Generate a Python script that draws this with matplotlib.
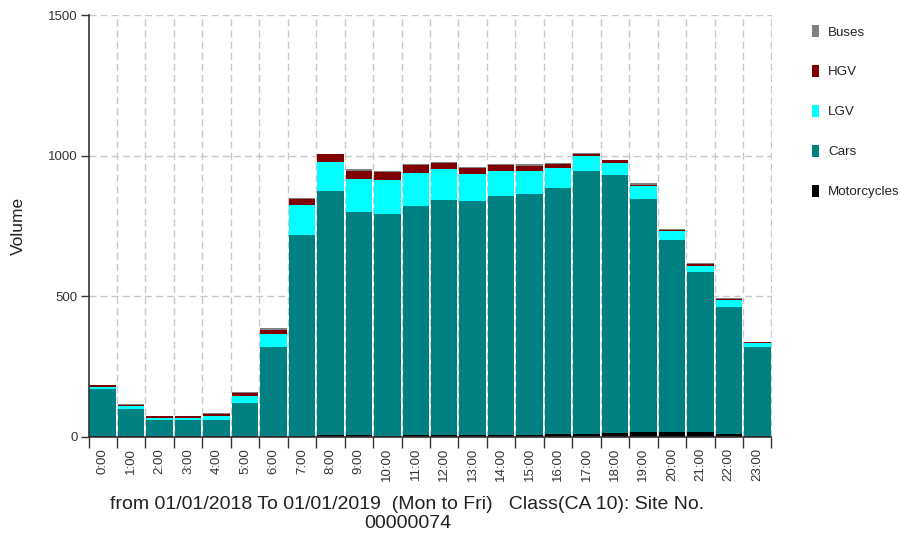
import matplotlib
matplotlib.use("Agg")
import matplotlib.pyplot as plt
import numpy as np

plt.rcParams['font.family'] = ['Liberation Sans', 'DejaVu Sans']

hours = ["0:00", "1:00", "2:00", "3:00", "4:00", "5:00", "6:00", "7:00", "8:00", "9:00",
         "10:00", "11:00", "12:00", "13:00", "14:00", "15:00", "16:00", "17:00", "18:00",
         "19:00", "20:00", "21:00", "22:00", "23:00"]

motorcycles = [1, 1, 1, 1, 1, 1, 2, 3, 5, 5, 4, 5, 5, 5, 6, 7, 8, 11, 14, 16, 17, 17, 10, 2]
cars = [169, 99, 60, 58, 60, 119, 316, 713, 868, 794, 789, 815, 836, 832, 849, 857, 878,
        935, 916, 831, 681, 568, 451, 318]
lgv = [8, 8, 6, 8, 13, 24, 48, 109, 104, 117, 119, 118, 110, 96, 91, 82, 71, 53, 44, 43,
       33, 23, 24, 13]
hgv = [5, 5, 6, 6, 7, 10, 14, 22, 27, 28, 30, 28, 22, 23, 22, 16, 12, 8, 9, 7, 4, 7, 5, 3]
buses = [1, 2, 1, 1, 2, 6, 7, 3, 3, 7, 3, 3, 3, 3, 3, 7, 5, 3, 3, 7, 5, 4, 3, 1]

series = [("Motorcycles", motorcycles, "#000000"),
          ("Cars", cars, "#008080"),
          ("LGV", lgv, "#00FFFF"),
          ("HGV", hgv, "#800000"),
          ("Buses", buses, "#808080")]

fig = plt.figure(figsize=(9.01, 5.38), dpi=100)
ax = fig.add_axes([88.5 / 901, 1 - 436.7 / 538, (771.5 - 88.5) / 901, (436.7 - 15) / 538])

x = np.arange(len(hours))
bottom = np.zeros(len(hours))
handles = {}
for name, vals, col in series:
    v = np.array(vals, dtype=float)
    b = ax.bar(x, v, bottom=bottom, width=0.93, color=col, linewidth=0, zorder=3, label=name)
    handles[name] = b
    bottom += v

ax.set_xlim(-0.5, len(hours) - 0.5)
ax.set_ylim(0, 1500)

# major ticks at boundaries (tick marks), minor at centers (labels)
ax.set_xticks(np.arange(-0.5, len(hours), 1.0))
ax.set_xticklabels([])
ax.set_xticks(x, minor=True)
ax.set_xticklabels(hours, minor=True, rotation=90, fontsize=9.5, color="#333333")
ax.tick_params(axis="x", which="major", length=8, width=1, color="#333333", direction="out")
ax.tick_params(axis="x", which="minor", length=0, pad=8)

ax.set_yticks([0, 500, 1000, 1500])
ax.set_yticklabels(["0", "500", "1000", "1500"], fontsize=9.5, color="#333333")
ax.tick_params(axis="y", length=6, width=1, color="#333333", direction="out", pad=2)

grid_kw = dict(color="#c8c8c8", linewidth=1, linestyle=(0, (5, 3)), zorder=1)
for yv in [500, 1000, 1500]:
    ax.axhline(yv, **grid_kw)
for xv in np.arange(0.5, len(hours), 1.0):
    ax.axvline(xv, **grid_kw)

for s in ["top", "right"]:
    ax.spines[s].set_visible(False)
for s in ["left", "bottom"]:
    ax.spines[s].set_color("#333333")
    ax.spines[s].set_linewidth(1.2)
    ax.spines[s].set_zorder(4)

ax.set_ylabel("Volume", fontsize=12.5, color="#222222")
ax.yaxis.set_label_coords(-0.092, 0.5)

order = ["Buses", "HGV", "LGV", "Cars", "Motorcycles"]
fig.legend([handles[n] for n in order], order, loc="upper left",
           bbox_to_anchor=(812 / 901, 1 - 25 / 538), frameon=False, fontsize=9.6,
           handlelength=0.55, handleheight=1.0, handletextpad=0.65, labelspacing=1.98,
           borderpad=0, borderaxespad=0, labelcolor="#222222")

fig.text(407.5 / 901, 1 - 514 / 538,
         "from 01/01/2018 To 01/01/2019  (Mon to Fri)   Class(CA 10): Site No.\n00000074",
         ha="center", va="center", fontsize=14, color="#222222", linespacing=1.12)

fig.savefig("out.png", dpi=100)
